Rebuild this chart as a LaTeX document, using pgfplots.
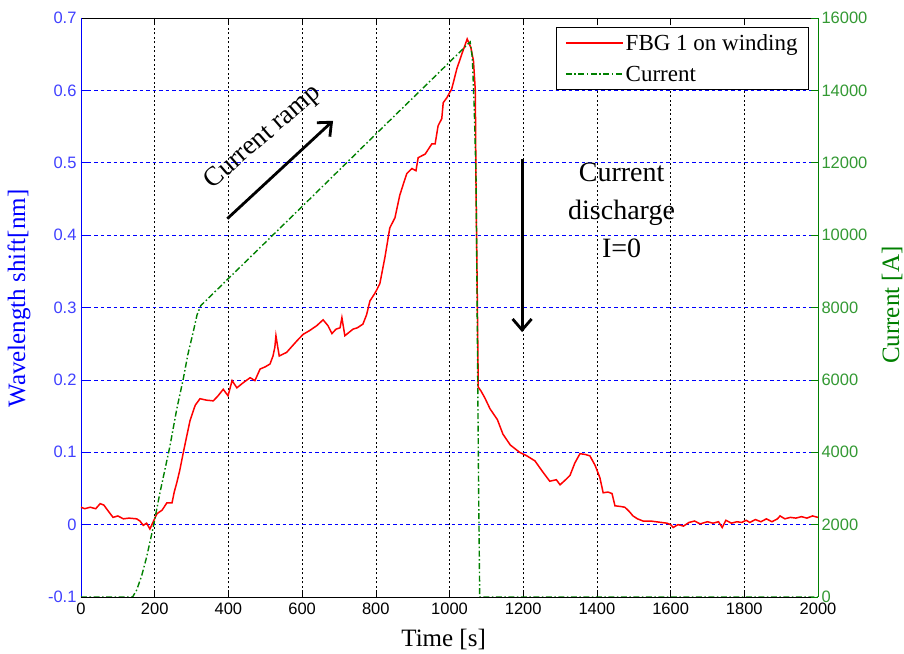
\documentclass[border=0pt]{standalone}
\usepackage{pgfplots}
\pgfplotsset{compat=1.18}
\usepackage{fontspec}
\setmainfont{Liberation Serif}
\newfontfamily\arial{Liberation Sans}
\usetikzlibrary{arrows.meta}

\definecolor{mblue}{rgb}{0,0,1}
\definecolor{mgreen}{rgb}{0,0.5,0}
\definecolor{lblue}{rgb}{0.25,0.25,1}
\definecolor{lgreen}{rgb}{0.2,0.6,0.2}

% FBG wavelength shift [nm] versus time [s]
\pgfplotstableread{
t v
0 0.024
10 0.022
25 0.024
40 0.022
52 0.029
62 0.027
75 0.018
87 0.010
100 0.012
115 0.008
130 0.009
151 0.008
160 0.005
169 -0.001
178 0.002
187 -0.006
196 0.004
206 0.015
220 0.020
233 0.030
247 0.030
253 0.045
260 0.058
268 0.075
277 0.098
286 0.120
296 0.144
310 0.165
323 0.174
340 0.172
359 0.171
372 0.178
386 0.187
399 0.178
410 0.199
423 0.189
440 0.196
459 0.203
472 0.199
486 0.215
500 0.218
513 0.222
521 0.233
526 0.245
529 0.261
534 0.245
538 0.233
558 0.238
586 0.254
603 0.263
620 0.268
640 0.275
657 0.283
670 0.275
681 0.264
692 0.270
703 0.272
708 0.286
716 0.261
738 0.270
750 0.272
765 0.277
775 0.290
784 0.309
798 0.320
811 0.333
825 0.370
838 0.410
852 0.424
865 0.455
875 0.471
884 0.485
898 0.492
909 0.489
915 0.507
934 0.512
952 0.526
961 0.526
969 0.551
979 0.561
983 0.583
993 0.590
1006 0.602
1020 0.630
1034 0.651
1048 0.671
1058 0.659
1065 0.641
1070 0.600
1072 0.465
1075 0.333
1078 0.190
1085 0.185
1096 0.175
1110 0.160
1130 0.145
1145 0.125
1165 0.110
1190 0.100
1210 0.095
1232 0.088
1250 0.075
1272 0.060
1290 0.062
1300 0.055
1315 0.062
1327 0.068
1340 0.085
1354 0.098
1368 0.097
1381 0.095
1395 0.082
1408 0.065
1417 0.044
1430 0.045
1441 0.043
1449 0.026
1465 0.025
1476 0.024
1488 0.018
1498 0.012
1510 0.008
1525 0.005
1545 0.005
1560 0.004
1575 0.003
1590 0.002
1600 0.000
1607 -0.004
1620 0.000
1635 -0.002
1650 0.003
1665 0.005
1680 0.001
1700 0.004
1715 0.002
1730 0.004
1740 -0.004
1750 0.006
1765 0.002
1780 0.004
1793 0.003
1805 0.006
1815 0.003
1830 0.007
1845 0.004
1860 0.008
1875 0.004
1890 0.008
1897 0.012
1910 0.008
1925 0.010
1940 0.009
1955 0.011
1970 0.009
1985 0.012
2000 0.010
}\fbgdata

% Coil current [A] versus time [s]
\pgfplotstableread{
t I
0 0
140 0
151 190
165 600
178 1100
196 1930
214 2870
241 4150
260 5200
277 6000
290 6700
304 7300
315 7800
325 8050
335 8150
400 8800
600 10790
811 12900
1000 14780
1056 15340
1062 14900
1067 13540
1072 11600
1075 7930
1079 3000
1082 0
2000 0
}\currentdata

\begin{document}
\begin{tikzpicture}
\begin{axis}[
  name=ax1,
  scale only axis,
  width=737pt, height=579pt,
  xmin=0, xmax=2000, ymin=-0.1, ymax=0.7,
  xtick={0,200,...,2000},
  ytick={-0.1,0,0.1,0.2,0.3,0.4,0.5,0.6,0.7},
  ytick pos=left,
  tick align=inside,
  major tick length=7pt,
  separate axis lines,
  every outer x axis line/.append style={black, line width=0.6pt},
  every outer y axis line/.append style={mblue, line width=0.8pt},
  x tick style={black, line width=0.6pt},
  y tick style={mblue, line width=0.6pt},
  xmajorgrids, ymajorgrids,
  major x grid style={black, line width=0.6pt, dash pattern=on 2pt off 2.5pt},
  major y grid style={mblue, line width=0.6pt, dash pattern=on 3.5pt off 3pt},
  /pgf/number format/assume math mode=true,
  x tick label style={font=\arial\fontsize{16.5}{18}\selectfont, black,
    /pgf/number format/1000 sep={}, yshift=-2pt},
  y tick label style={font=\arial\fontsize{16.5}{18}\selectfont, lblue,
    /pgf/number format/fixed, /pgf/number format/precision=1, xshift=-1pt},
  scaled ticks=false,
  xlabel={Time [s]},
  ylabel={Wavelength shift[nm]},
  every axis x label/.style={at={(axis description cs:0.492,-0.0742)}, anchor=center,
    font=\fontsize{25}{28}\selectfont, black},
  every axis y label/.style={at={(axis description cs:-0.0841,0.5155)}, rotate=90, anchor=center,
    font=\fontsize{25}{28}\selectfont, mblue},
  clip=false,
]
\addplot[red, line width=1.5pt] table[x=t, y=v] {\fbgdata};

% annotations
\draw[black, line width=2.8pt, -{Straight Barb[length=11pt,width=19pt]}] (axis cs:397,0.4227) -- (axis cs:684,0.558);
\node[rotate=41, font=\fontsize{27}{30}\selectfont] at (axis cs:494,0.535) {Current ramp};
\draw[black, line width=2.8pt, -{Straight Barb[length=11pt,width=19pt]}] (axis cs:1197,0.5055) -- (axis cs:1197,0.266);
\node[align=center, font=\fontsize{28}{38}\selectfont] at (axis cs:1467,0.434) {Current\\discharge\\I=0};
\end{axis}

\begin{axis}[
  scale only axis,
  width=737pt, height=579pt,
  xmin=0, xmax=2000, ymin=0, ymax=16000,
  axis x line=none,
  axis y line*=right,
  ytick={0,2000,...,16000},
  tick align=inside,
  major tick length=7pt,
  y axis line style={mgreen, line width=0.8pt},
  y tick style={mgreen, line width=0.6pt},
  /pgf/number format/assume math mode=true,
  y tick label style={font=\arial\fontsize{16.5}{18}\selectfont, lgreen,
    /pgf/number format/1000 sep={}},
  scaled ticks=false,
  ylabel={Current [A]},
  every axis y label/.style={at={(axis description cs:1.1004,0.504)}, rotate=90, anchor=center,
    font=\fontsize{25}{28}\selectfont, mgreen},
  legend style={at={(axis description cs:0.9878,0.9845)}, anchor=north east,
    draw=black, line width=0.8pt, fill=white,
    font=\fontsize{23}{26}\selectfont,
    row sep=10pt, inner xsep=9pt, inner ysep=5pt},
  legend cell align=left,
  legend image code/.code={\draw[#1] (0pt,0pt) -- (57pt,0pt);},
]
\addlegendimage{red, line width=1.5pt}
\addlegendentry{FBG 1 on winding}
\addplot[mgreen, line width=1.4pt, dash pattern=on 6pt off 2.5pt on 1.5pt off 2.5pt] table[x=t, y=I] {\currentdata};
\addlegendentry{Current}
\end{axis}

\pgfresetboundingbox
\path[use as bounding box] ([shift={(-81pt,-57pt)}]ax1.south west) rectangle ([shift={(86pt,18pt)}]ax1.north east);
\end{tikzpicture}
\end{document}
